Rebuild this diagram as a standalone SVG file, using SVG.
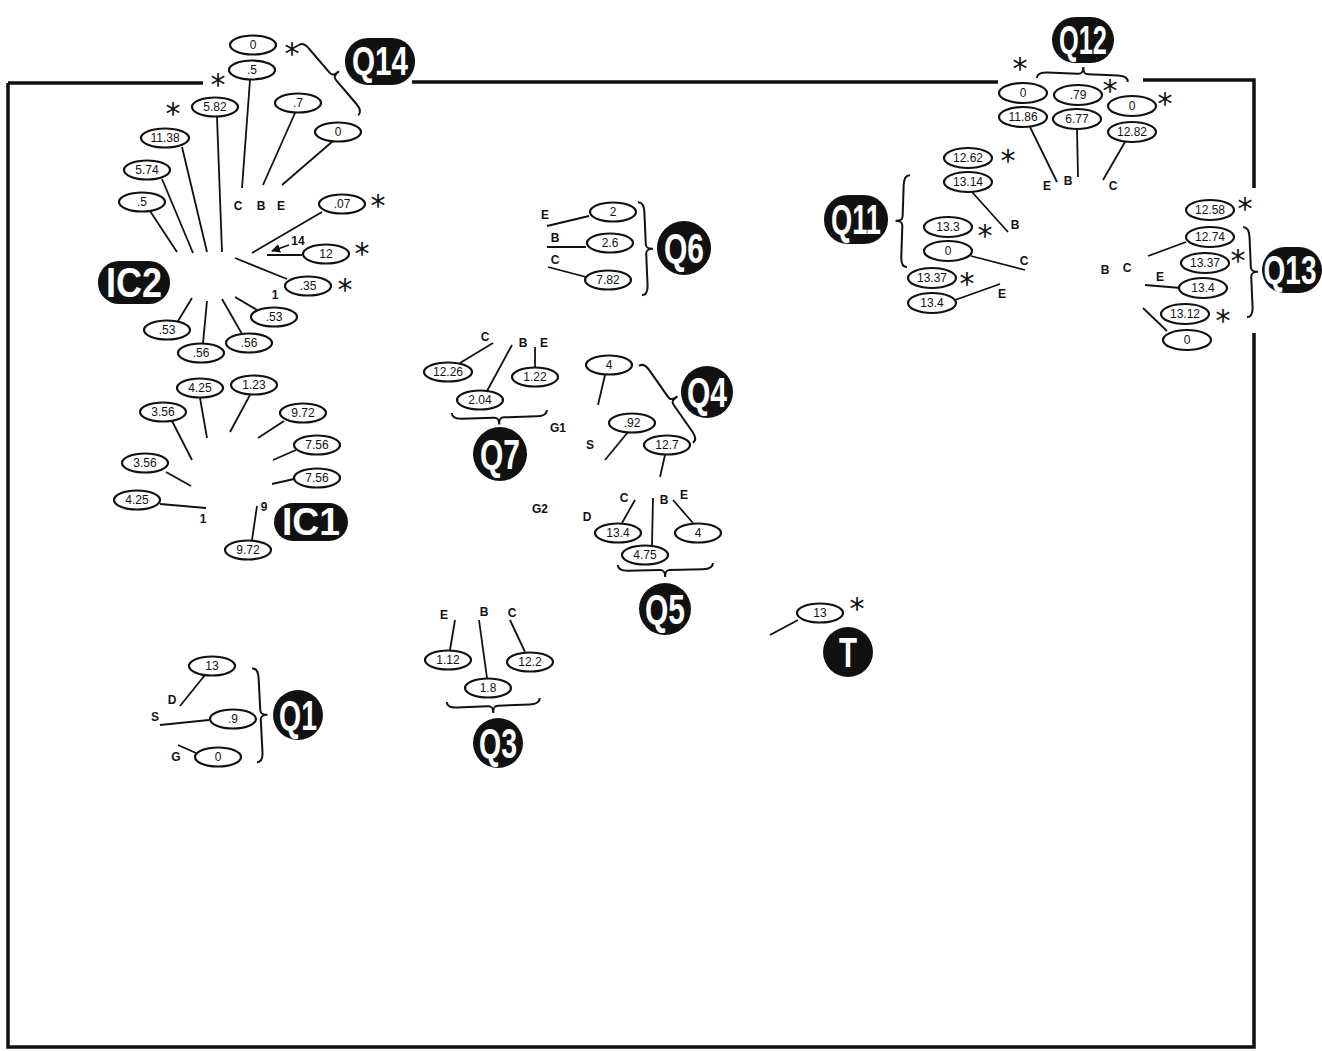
<svg xmlns="http://www.w3.org/2000/svg" width="1322" height="1051" viewBox="0 0 1322 1051">
<defs>
<marker id="ah" viewBox="0 0 10 10" refX="9" refY="5" markerWidth="5" markerHeight="5" orient="auto"><path d="M0,0 L10,5 L0,10 z" fill="#111"/></marker>
</defs>
<style>
.bg{fill:#fff}
.frame{stroke:#111;stroke-width:3.5;fill:none}
.el{fill:#fff;stroke:#111;stroke-width:2.2}
.v{font-family:"Liberation Sans",Arial,sans-serif;font-size:12px;fill:#111;text-anchor:middle}
.p{font-family:"Liberation Sans",Arial,sans-serif;font-size:12px;font-weight:bold;fill:#111;text-anchor:middle}
.ast{font-family:"DejaVu Sans",sans-serif;font-size:30px;fill:#111;text-anchor:middle}
.ln{stroke:#111;stroke-width:1.8;fill:none}
.br{stroke:#111;stroke-width:2;fill:none}
.tag{fill:#111}
.tt{font-family:"Liberation Sans",Arial,sans-serif;font-weight:bold;fill:#fff;text-anchor:middle}
</style>
<rect class="bg" x="0" y="0" width="1322" height="1051"/>
<g id="frame">
<path class="frame" d="M8,83 H203 M412,82 H998 M1143,80 H1254 V188 M1254,333 V1047 H8 V83"/>
</g>

<g id="connectors">
<!-- IC2 / Q14 -->
<line class="ln" x1="250" y1="80" x2="242" y2="188"/>
<line class="ln" x1="295" y1="113" x2="263" y2="185"/>
<line class="ln" x1="333" y1="141" x2="282" y2="185"/>
<line class="ln" x1="217" y1="117" x2="222" y2="252"/>
<line class="ln" x1="182" y1="147" x2="207" y2="252"/>
<line class="ln" x1="162" y1="179" x2="193" y2="253"/>
<line class="ln" x1="150" y1="211" x2="177" y2="252"/>
<line class="ln" x1="322" y1="212" x2="252" y2="253"/>
<line class="ln" x1="302" y1="255" x2="267" y2="255"/>
<line class="ln" x1="289" y1="245" x2="272" y2="251" marker-end="url(#ah)"/>
<line class="ln" x1="287" y1="279" x2="235" y2="258"/>
<line class="ln" x1="257" y1="310" x2="235" y2="297"/>
<line class="ln" x1="242" y1="334" x2="222" y2="299"/>
<line class="ln" x1="203" y1="343" x2="207" y2="301"/>
<line class="ln" x1="178" y1="321" x2="192" y2="298"/>
<!-- IC1 -->
<line class="ln" x1="200" y1="398" x2="207" y2="438"/>
<line class="ln" x1="250" y1="395" x2="230" y2="432"/>
<line class="ln" x1="172" y1="421" x2="192" y2="460"/>
<line class="ln" x1="284" y1="421" x2="258" y2="438"/>
<line class="ln" x1="296" y1="450" x2="273" y2="460"/>
<line class="ln" x1="294" y1="479" x2="272" y2="484"/>
<line class="ln" x1="166" y1="472" x2="191" y2="486"/>
<line class="ln" x1="160" y1="504" x2="206" y2="508"/>
<line class="ln" x1="257" y1="506" x2="252" y2="540"/>
<!-- Q6 -->
<line class="ln" x1="589" y1="216" x2="547" y2="226"/>
<line class="ln" x1="586" y1="247" x2="547" y2="247"/>
<line class="ln" x1="586" y1="277" x2="548" y2="267"/>
<!-- Q7 -->
<line class="ln" x1="493" y1="343" x2="460" y2="363"/>
<line class="ln" x1="512" y1="345" x2="487" y2="391"/>
<line class="ln" x1="535" y1="347" x2="535" y2="367"/>
<!-- Q4 -->
<line class="ln" x1="605" y1="375" x2="598" y2="405"/>
<line class="ln" x1="628" y1="432" x2="605" y2="460"/>
<line class="ln" x1="665" y1="455" x2="660" y2="477"/>
<!-- Q5 -->
<line class="ln" x1="635" y1="500" x2="622" y2="523"/>
<line class="ln" x1="653" y1="498" x2="652" y2="545"/>
<line class="ln" x1="673" y1="500" x2="693" y2="523"/>
<!-- T -->
<line class="ln" x1="798" y1="620" x2="770" y2="635"/>
<!-- Q3 -->
<line class="ln" x1="455" y1="620" x2="450" y2="650"/>
<line class="ln" x1="479" y1="620" x2="487" y2="678"/>
<line class="ln" x1="510" y1="620" x2="525" y2="652"/>
<!-- Q1 -->
<line class="ln" x1="205" y1="675" x2="180" y2="706"/>
<line class="ln" x1="209" y1="720" x2="160" y2="725"/>
<line class="ln" x1="196" y1="753" x2="178" y2="745"/>
<!-- Q12 -->
<line class="ln" x1="1030" y1="127" x2="1057" y2="182"/>
<line class="ln" x1="1077" y1="129" x2="1078" y2="177"/>
<line class="ln" x1="1125" y1="142" x2="1103" y2="180"/>
<!-- Q11 -->
<line class="ln" x1="972" y1="192" x2="1008" y2="232"/>
<line class="ln" x1="971" y1="256" x2="1025" y2="270"/>
<line class="ln" x1="955" y1="300" x2="1000" y2="284"/>
<!-- Q13 -->
<line class="ln" x1="1186" y1="242" x2="1148" y2="256"/>
<line class="ln" x1="1181" y1="288" x2="1145" y2="285"/>
<line class="ln" x1="1167" y1="331" x2="1143" y2="308"/>
</g>

<g id="braces">
<path class="br" transform="translate(362,112) rotate(-130.6)" d="M0,-5 C0,0 4,1 10,1 L41,1 C45,1 46,3 46,9 C46,3 47,1 51,1 L82,1 C88,1 92,0 92,-5"/>
<path class="br" transform="translate(697,440) rotate(-125)" d="M0,-5 C0,0 4,1 10,1 L42,1 C46,1 47,3 47,9 C47,3 48,1 52,1 L84,1 C90,1 94,0 94,-5"/>
<path class="br" transform="translate(452,418) rotate(-1.8)" d="M0,-5 C0,0 4,1 10,1 L42,1 C46,1 47,3 47,8 C47,3 48,1 52,1 L85,1 C91,1 95,0 95,-5"/>
<path class="br" transform="translate(618,570) rotate(-1.2)" d="M0,-5 C0,0 4,1 10,1 L42,1 C46,1 47,3 47,8 C47,3 48,1 52,1 L85,1 C91,1 95,0 95,-5"/>
<path class="br" transform="translate(447,707) rotate(-2.5)" d="M0,-5 C0,0 4,1 10,1 L41,1 C45,1 46,3 46,8 C46,3 47,1 51,1 L83,1 C89,1 93,0 93,-5"/>
<path class="br" transform="translate(1128,77) rotate(-177.5)" d="M0,-5 C0,0 4,1 10,1 L40,1 C44,1 45,3 45,8 C45,3 46,1 50,1 L81,1 C87,1 91,0 91,-5"/>
<path class="br" transform="translate(647,295) rotate(-92.5)" d="M0,-5 C0,0 4,1 10,1 L41,1 C45,1 46,3 46,8 C46,3 47,1 51,1 L83,1 C89,1 93,0 93,-5"/>
<path class="br" transform="translate(262,762) rotate(-93)" d="M0,-5 C0,0 4,1 10,1 L42,1 C46,1 47,3 47,8 C47,3 48,1 52,1 L84,1 C90,1 94,0 94,-5"/>
<path class="br" transform="translate(905,175) rotate(91.9)" d="M0,-5 C0,0 4,1 10,1 L41,1 C45,1 46,3 46,8 C46,3 47,1 51,1 L82,1 C88,1 92,0 92,-5"/>
<path class="br" transform="translate(1252,317) rotate(-92.5)" d="M0,-5 C0,0 4,1 10,1 L40,1 C44,1 45,3 45,8 C45,3 46,1 50,1 L80,1 C86,1 90,0 90,-5"/>
</g>

<g id="IC2">
<rect class="tag" x="98" y="261" width="72" height="43" rx="21"/>
<text class="tt" x="134" y="297" font-size="42" textLength="56" lengthAdjust="spacingAndGlyphs">IC2</text>
<text class="p" x="238" y="210">C</text><text class="p" x="261" y="210">B</text><text class="p" x="281" y="210">E</text>
<text class="p" x="298" y="245">14</text>
<text class="p" x="275" y="299">1</text>
<g id="ic2-n1"><ellipse class="el" cx="253" cy="45" rx="23" ry="9.5"/><text class="v" x="253" y="49">0</text></g>
<g id="ic2-n2"><ellipse class="el" cx="252" cy="70" rx="23" ry="9.5"/><text class="v" x="252" y="74">.5</text></g>
<g id="ic2-n3"><ellipse class="el" cx="215" cy="107" rx="23" ry="9.5"/><text class="v" x="215" y="111">5.82</text></g>
<g id="ic2-n4"><ellipse class="el" cx="165" cy="138" rx="24" ry="9.5"/><text class="v" x="165" y="142">11.38</text></g>
<g id="ic2-n5"><ellipse class="el" cx="147" cy="170" rx="23" ry="9.5"/><text class="v" x="147" y="174">5.74</text></g>
<g id="ic2-n6"><ellipse class="el" cx="142" cy="202" rx="23" ry="9.5"/><text class="v" x="142" y="206">.5</text></g>
<g id="ic2-n7"><ellipse class="el" cx="298" cy="103" rx="23" ry="9.5"/><text class="v" x="298" y="107">.7</text></g>
<g id="ic2-n8"><ellipse class="el" cx="338" cy="132" rx="23" ry="9.5"/><text class="v" x="338" y="136">0</text></g>
<g id="ic2-n9"><ellipse class="el" cx="342" cy="204" rx="23" ry="9.5"/><text class="v" x="342" y="208">.07</text></g>
<g id="ic2-n10"><ellipse class="el" cx="326" cy="254" rx="23" ry="9.5"/><text class="v" x="326" y="258">12</text></g>
<g id="ic2-n11"><ellipse class="el" cx="308" cy="286" rx="23" ry="9.5"/><text class="v" x="308" y="290">.35</text></g>
<g id="ic2-n12"><ellipse class="el" cx="274" cy="317" rx="23" ry="9.5"/><text class="v" x="274" y="321">.53</text></g>
<g id="ic2-n13"><ellipse class="el" cx="249" cy="343" rx="23" ry="9.5"/><text class="v" x="249" y="347">.56</text></g>
<g id="ic2-n14"><ellipse class="el" cx="201" cy="353" rx="23" ry="9.5"/><text class="v" x="201" y="357">.56</text></g>
<g id="ic2-n15"><ellipse class="el" cx="167" cy="330" rx="23" ry="9.5"/><text class="v" x="167" y="334">.53</text></g>
<text class="ast" x="292" y="64">*</text>
<text class="ast" x="218" y="95" font-size="26">*</text>
<text class="ast" x="173" y="124" font-size="26">*</text>
<text class="ast" x="378" y="216">*</text>
<text class="ast" x="362" y="264">*</text>
<text class="ast" x="345" y="300">*</text>
</g>

<g id="Q14">
<rect class="tag" x="345" y="38" width="70" height="47" rx="23"/>
<text class="tt" x="380" y="75" font-size="40" textLength="56" lengthAdjust="spacingAndGlyphs">Q14</text>
</g>

<g id="IC1">
<rect class="tag" x="274" y="503" width="74" height="38" rx="19"/>
<text class="tt" x="311" y="535" font-size="38" textLength="58" lengthAdjust="spacingAndGlyphs">IC1</text>
<text class="p" x="203" y="523">1</text>
<text class="p" x="264" y="511">9</text>
<g id="ic1-n1"><ellipse class="el" cx="200" cy="388" rx="23" ry="9.5"/><text class="v" x="200" y="392">4.25</text></g>
<g id="ic1-n2"><ellipse class="el" cx="254" cy="385" rx="23" ry="9.5"/><text class="v" x="254" y="389">1.23</text></g>
<g id="ic1-n3"><ellipse class="el" cx="163" cy="412" rx="23" ry="9.5"/><text class="v" x="163" y="416">3.56</text></g>
<g id="ic1-n4"><ellipse class="el" cx="303" cy="413" rx="23" ry="9.5"/><text class="v" x="303" y="417">9.72</text></g>
<g id="ic1-n5"><ellipse class="el" cx="317" cy="445" rx="23" ry="9.5"/><text class="v" x="317" y="449">7.56</text></g>
<g id="ic1-n6"><ellipse class="el" cx="317" cy="478" rx="23" ry="9.5"/><text class="v" x="317" y="482">7.56</text></g>
<g id="ic1-n7"><ellipse class="el" cx="145" cy="463" rx="23" ry="9.5"/><text class="v" x="145" y="467">3.56</text></g>
<g id="ic1-n8"><ellipse class="el" cx="137" cy="500" rx="23" ry="9.5"/><text class="v" x="137" y="504">4.25</text></g>
<g id="ic1-n9"><ellipse class="el" cx="248" cy="550" rx="23" ry="9.5"/><text class="v" x="248" y="554">9.72</text></g>
</g>

<g id="Q6">
<circle class="tag" cx="684" cy="248" r="27"/>
<text class="tt" x="684" y="263" font-size="42" textLength="40" lengthAdjust="spacingAndGlyphs">Q6</text>
<text class="p" x="545" y="219">E</text><text class="p" x="555" y="242">B</text><text class="p" x="555" y="264">C</text>
<g id="q6-n1"><ellipse class="el" cx="613" cy="212" rx="23" ry="9.5"/><text class="v" x="613" y="216">2</text></g>
<g id="q6-n2"><ellipse class="el" cx="610" cy="243" rx="23" ry="9.5"/><text class="v" x="610" y="247">2.6</text></g>
<g id="q6-n3"><ellipse class="el" cx="608" cy="280" rx="23" ry="9.5"/><text class="v" x="608" y="284">7.82</text></g>
</g>

<g id="Q7">
<circle class="tag" cx="500" cy="454" r="27"/>
<text class="tt" x="500" y="469" font-size="42" textLength="40" lengthAdjust="spacingAndGlyphs">Q7</text>
<text class="p" x="485" y="341">C</text><text class="p" x="523" y="347">B</text><text class="p" x="544" y="347">E</text>
<text class="p" x="558" y="432">G1</text>
<g id="q7-n1"><ellipse class="el" cx="448" cy="372" rx="24" ry="9.5"/><text class="v" x="448" y="376">12.26</text></g>
<g id="q7-n2"><ellipse class="el" cx="480" cy="400" rx="23" ry="9.5"/><text class="v" x="480" y="404">2.04</text></g>
<g id="q7-n3"><ellipse class="el" cx="535" cy="377" rx="23" ry="9.5"/><text class="v" x="535" y="381">1.22</text></g>
</g>

<g id="Q4">
<circle class="tag" cx="707" cy="392" r="26"/>
<text class="tt" x="707" y="407" font-size="42" textLength="40" lengthAdjust="spacingAndGlyphs">Q4</text>
<text class="p" x="590" y="449">S</text>
<g id="q4-n1"><ellipse class="el" cx="609" cy="365" rx="23" ry="9.5"/><text class="v" x="609" y="369">4</text></g>
<g id="q4-n2"><ellipse class="el" cx="632" cy="423" rx="23" ry="9.5"/><text class="v" x="632" y="427">.92</text></g>
<g id="q4-n3"><ellipse class="el" cx="667" cy="445" rx="23" ry="9.5"/><text class="v" x="667" y="449">12.7</text></g>
</g>

<g id="Q5">
<circle class="tag" cx="665" cy="609" r="26"/>
<text class="tt" x="665" y="624" font-size="42" textLength="40" lengthAdjust="spacingAndGlyphs">Q5</text>
<text class="p" x="540" y="513">G2</text>
<text class="p" x="587" y="521">D</text>
<text class="p" x="624" y="502">C</text><text class="p" x="664" y="504">B</text><text class="p" x="684" y="499">E</text>
<g id="q5-n1"><ellipse class="el" cx="618" cy="533" rx="23" ry="9.5"/><text class="v" x="618" y="537">13.4</text></g>
<g id="q5-n2"><ellipse class="el" cx="645" cy="555" rx="23" ry="9.5"/><text class="v" x="645" y="559">4.75</text></g>
<g id="q5-n3"><ellipse class="el" cx="698" cy="533" rx="23" ry="9.5"/><text class="v" x="698" y="537">4</text></g>
</g>

<g id="T">
<circle class="tag" cx="848" cy="652" r="25"/>
<text class="tt" x="848" y="667" font-size="42" textLength="18" lengthAdjust="spacingAndGlyphs">T</text>
<g id="t-n1"><ellipse class="el" cx="820" cy="613" rx="23" ry="9.5"/><text class="v" x="820" y="617">13</text></g>
<text class="ast" x="857" y="619">*</text>
</g>

<g id="Q3">
<circle class="tag" cx="498" cy="743" r="25"/>
<text class="tt" x="498" y="758" font-size="42" textLength="38" lengthAdjust="spacingAndGlyphs">Q3</text>
<text class="p" x="444" y="619">E</text><text class="p" x="484" y="616">B</text><text class="p" x="512" y="617">C</text>
<g id="q3-n1"><ellipse class="el" cx="448" cy="660" rx="23" ry="9.5"/><text class="v" x="448" y="664">1.12</text></g>
<g id="q3-n2"><ellipse class="el" cx="488" cy="688" rx="23" ry="9.5"/><text class="v" x="488" y="692">1.8</text></g>
<g id="q3-n3"><ellipse class="el" cx="530" cy="662" rx="23" ry="9.5"/><text class="v" x="530" y="666">12.2</text></g>
</g>

<g id="Q1">
<circle class="tag" cx="298" cy="715" r="25"/>
<text class="tt" x="298" y="730" font-size="42" textLength="38" lengthAdjust="spacingAndGlyphs">Q1</text>
<text class="p" x="172" y="704">D</text><text class="p" x="155" y="721">S</text><text class="p" x="176" y="761">G</text>
<g id="q1-n1"><ellipse class="el" cx="212" cy="666" rx="23" ry="9.5"/><text class="v" x="212" y="670">13</text></g>
<g id="q1-n2"><ellipse class="el" cx="233" cy="719" rx="23" ry="9.5"/><text class="v" x="233" y="723">.9</text></g>
<g id="q1-n3"><ellipse class="el" cx="218" cy="757" rx="23" ry="9.5"/><text class="v" x="218" y="761">0</text></g>
</g>

<g id="Q12">
<rect class="tag" x="1052" y="17" width="62" height="46" rx="23"/>
<text class="tt" x="1083" y="54" font-size="40" textLength="48" lengthAdjust="spacingAndGlyphs">Q12</text>
<text class="p" x="1047" y="190">E</text><text class="p" x="1068" y="185">B</text><text class="p" x="1113" y="190">C</text>
<g id="q12-n1"><ellipse class="el" cx="1023" cy="93" rx="24" ry="10"/><text class="v" x="1023" y="97">0</text></g>
<g id="q12-n2"><ellipse class="el" cx="1023" cy="117" rx="24" ry="10"/><text class="v" x="1023" y="121">11.86</text></g>
<g id="q12-n3"><ellipse class="el" cx="1078" cy="95" rx="24" ry="10"/><text class="v" x="1078" y="99">.79</text></g>
<g id="q12-n4"><ellipse class="el" cx="1077" cy="119" rx="24" ry="10"/><text class="v" x="1077" y="123">6.77</text></g>
<g id="q12-n5"><ellipse class="el" cx="1132" cy="106" rx="24" ry="10"/><text class="v" x="1132" y="110">0</text></g>
<g id="q12-n6"><ellipse class="el" cx="1132" cy="132" rx="24" ry="10"/><text class="v" x="1132" y="136">12.82</text></g>
<text class="ast" x="1020" y="79" font-size="26">*</text>
<text class="ast" x="1110" y="101">*</text>
<text class="ast" x="1165" y="114">*</text>
</g>

<g id="Q11">
<rect class="tag" x="824" y="195" width="64" height="49" rx="24"/>
<text class="tt" x="856" y="234" font-size="42" textLength="50" lengthAdjust="spacingAndGlyphs">Q11</text>
<text class="p" x="1015" y="229">B</text><text class="p" x="1024" y="265">C</text><text class="p" x="1002" y="298">E</text>
<g id="q11-n1"><ellipse class="el" cx="968" cy="158" rx="24" ry="10"/><text class="v" x="968" y="162">12.62</text></g>
<g id="q11-n2"><ellipse class="el" cx="968" cy="182" rx="24" ry="10"/><text class="v" x="968" y="186">13.14</text></g>
<g id="q11-n3"><ellipse class="el" cx="948" cy="227" rx="24" ry="10"/><text class="v" x="948" y="231">13.3</text></g>
<g id="q11-n4"><ellipse class="el" cx="948" cy="251" rx="24" ry="10"/><text class="v" x="948" y="255">0</text></g>
<g id="q11-n5"><ellipse class="el" cx="932" cy="278" rx="24" ry="10"/><text class="v" x="932" y="282">13.37</text></g>
<g id="q11-n6"><ellipse class="el" cx="932" cy="303" rx="24" ry="10"/><text class="v" x="932" y="307">13.4</text></g>
<text class="ast" x="1008" y="171">*</text>
<text class="ast" x="985" y="246">*</text>
<text class="ast" x="967" y="294">*</text>
</g>

<g id="Q13">
<rect class="tag" x="1262" y="247" width="60" height="46" rx="23"/>
<text class="tt" transform="translate(1290,284) scale(0.7,1)" x="0" y="0" font-size="40">Q13</text>
<text class="p" x="1105" y="274">B</text><text class="p" x="1127" y="272">C</text><text class="p" x="1160" y="281">E</text>
<g id="q13-n1"><ellipse class="el" cx="1210" cy="210" rx="24" ry="10"/><text class="v" x="1210" y="214">12.58</text></g>
<g id="q13-n2"><ellipse class="el" cx="1210" cy="237" rx="24" ry="10"/><text class="v" x="1210" y="241">12.74</text></g>
<g id="q13-n3"><ellipse class="el" cx="1205" cy="263" rx="24" ry="10"/><text class="v" x="1205" y="267">13.37</text></g>
<g id="q13-n4"><ellipse class="el" cx="1203" cy="288" rx="24" ry="10"/><text class="v" x="1203" y="292">13.4</text></g>
<g id="q13-n5"><ellipse class="el" cx="1185" cy="314" rx="24" ry="10"/><text class="v" x="1185" y="318">13.12</text></g>
<g id="q13-n6"><ellipse class="el" cx="1187" cy="340" rx="24" ry="10"/><text class="v" x="1187" y="344">0</text></g>
<text class="ast" x="1245" y="219">*</text>
<text class="ast" x="1238" y="271">*</text>
<text class="ast" x="1223" y="331">*</text>
</g>
</svg>
